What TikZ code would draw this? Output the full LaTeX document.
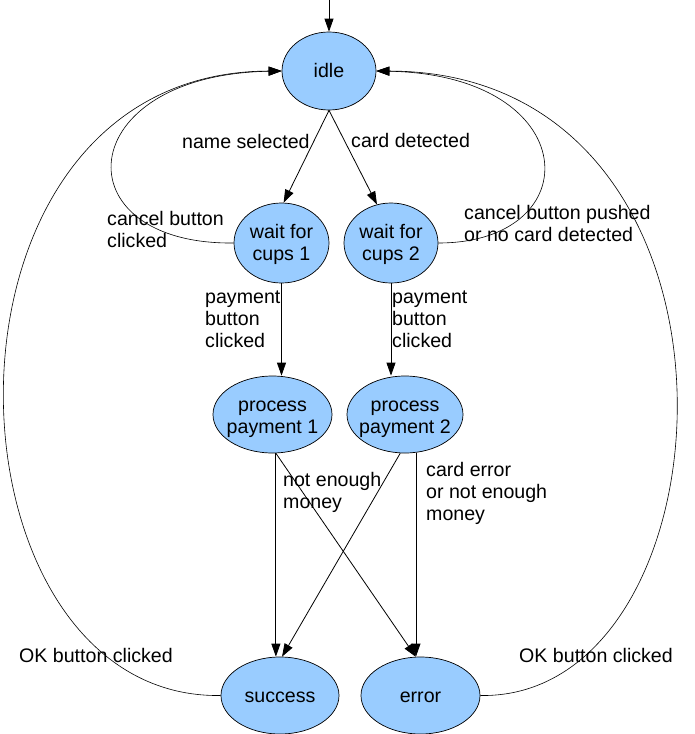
\documentclass[tikz,border=0pt]{standalone}
\usepackage{fontspec}
\setmainfont{Liberation Sans}
\usetikzlibrary{shapes.geometric,arrows.meta}
\definecolor{stfill}{RGB}{153,204,255}
\newcommand{\sttext}[2][2.5pt]{\raisebox{-#1}[\height][\depth]{\begin{tabular}{@{}c@{}}#2\end{tabular}}}
\begin{document}
\begin{tikzpicture}[x=1pt,y=-1pt,
  font=\fontsize{19.6}{22}\selectfont,
  state/.style={ellipse,draw=black,line width=0.7pt,fill=stfill,inner xsep=-16pt,inner ysep=0pt},
  lbl/.style={anchor=west,align=left,inner sep=0pt},
  edge/.style={line width=0.8pt,-{Triangle[length=13pt,width=9pt]}},
  loopedge/.style={line width=0.6pt,-{Triangle[length=13pt,width=9pt]}}]
\fill[white] (0,0) rectangle (694,734);
\useasboundingbox (0,0) rectangle (694,734);

\node[state,minimum width=94pt,minimum height=78pt] (idle) at (329,71) {\sttext{idle}};
\node[state,minimum width=95pt,minimum height=80pt] (w1) at (281.5,243) {\sttext{wait for\\cups 1}};
\node[state,minimum width=94pt,minimum height=80pt] (w2) at (391,243) {\sttext{wait for\\cups 2}};
\node[state,minimum width=119pt,minimum height=77pt] (pp1) at (272.5,414.5) {\sttext[4pt]{process\\payment 1}};
\node[state,minimum width=116pt,minimum height=77pt] (pp2) at (405,414.5) {\sttext[4pt]{process\\payment 2}};
\node[state,minimum width=118pt,minimum height=77pt] (succ) at (280,695.5) {\sttext{success}};
\node[state,minimum width=119pt,minimum height=77pt] (err) at (420.5,695.5) {\sttext{error}};

\coordinate (start) at (329,0);
\draw[edge] (start) -- (idle.north);
\draw[edge] (idle.south) -- (w1.87);
\draw[edge] (idle.south) -- (w2.110);
\draw[loopedge] (w1.west) .. controls (60,245) and (70,75) .. (idle.west);
\draw[loopedge] (w2.east) .. controls (590,243) and (585,75) .. (idle.east);
\draw[loopedge] (succ.west) .. controls (-66,700) and (-88,72) .. (idle.west);
\draw[loopedge] (err.east) .. controls (740,700) and (775,72) .. (idle.east);
\draw[edge] (w1.south) -- (w1.south |- pp1.north);
\draw[edge] (w2.south) -- (w2.south |- pp2.north);
\draw[edge] (pp1.-85) -- (pp1.-85 |- succ.north);
\draw[edge] (pp1.-85) -- (err.97);
\draw[edge] (pp2.-97) -- (succ.87);
\draw[edge] (pp2.-74) -- (pp2.-74 |- err.north);

\node[lbl] (l1) at (182,141) {name selected};
\node[lbl] (l2) at (351,140) {card detected};
\node[lbl] (l3) at (107,229.5) {cancel button\\clicked};
\node[lbl] (l4) at (464,223.5) {cancel button pushed\\or no card detected};
\node[lbl] (l5) at (205,319.5) {payment\\button\\clicked};
\node[lbl] (l6) at (392,319.5) {payment\\button\\clicked};
\node[lbl] (l7) at (283,492) {not enough\\money};
\node[lbl] (l8) at (426,493) {card error\\or not enough\\money};
\node[lbl] (l9) at (19,655) {OK button clicked};
\node[lbl] (l10) at (519,655) {OK button clicked};
\end{tikzpicture}
\end{document}
